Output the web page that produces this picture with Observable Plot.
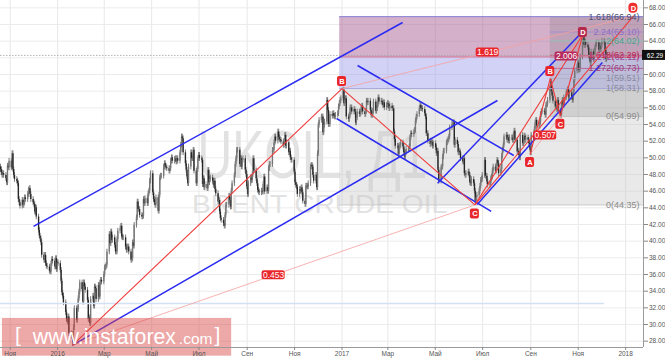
<!DOCTYPE html>
<html><head><meta charset="utf-8">
<script src="https://cdn.jsdelivr.net/npm/d3@7"></script>
<script src="https://cdn.jsdelivr.net/npm/@observablehq/plot@0.6"></script>
<style>html,body{margin:0;padding:0;background:#fff}#chart svg{display:block}</style>
</head><body><div id="chart"></div>
<script>
// ---------- data ----------
const firstDay = "2015-10-19";   // first trading day (Monday)
const firstOpen = 48.9;
// daily closes, one row per trading week (Mon..Fri)
const closes = [
48.6,48.2,47.9,48.1,47.9, 47.5,47.0,49.0,48.8,49.6, 48.8,50.5,48.6,47.9,47.4, 47.2,46.9,45.0,44.6,44.2,
44.9,44.3,44.6,45.2,45.0, 45.6,46.1,46.3,45.6,45.0, 44.6,44.4,43.5,44.0,42.9, 41.3,40.6,40.3,39.8,38.3,
37.7,38.3,37.3,37.0,36.9, 36.4,36.3,37.3,37.8,37.6, 36.9,37.9,36.6,37.4,37.3, 36.5,35.2,33.8,33.4,32.6,
31.4,30.6,30.3,30.9,28.9, 28.6,28.8,27.8,29.6,31.9, 30.5,31.8,33.1,33.9,35.0, 34.2,32.7,35.0,34.5,34.1,
32.9,30.6,30.8,30.1,33.0, 33.4,32.2,34.5,34.3,33.0, 34.7,33.3,35.0,35.3,35.1, 36.0,36.8,36.9,37.1,38.7,
40.8,39.7,41.1,40.1,40.4, 39.5,38.7,38.7,40.2,41.2, 41.5,41.8,40.5,40.4,40.4, 39.3,38.9,39.3,39.3,38.7,
37.7,37.9,39.8,39.4,41.9, 42.8,44.7,43.8,43.8,43.1, 42.9,43.0,45.0,44.5,45.1, 44.5,45.7,46.0,47.2,48.1,
45.8,45.0,44.6,44.3,45.2, 43.6,45.5,47.6,47.8,47.8, 48.9,49.3,49.0,48.8,48.7, 48.4,48.7,49.6,50.0,49.6,
49.8,49.9,49.5,49.9,49.6, 50.6,51.5,52.5,52.3,50.6, 49.3,48.5,47.7,46.9,48.9, 50.6,49.9,49.9,50.9,48.4,
46.9,48.6,49.9,50.3,49.9, 49.7,46.8,47.5,46.4,46.8, 46.3,48.5,47.0,47.4,47.6, 47.2,46.7,47.2,46.2,45.7,
44.7,44.9,43.5,42.7,42.5, 42.1,41.8,43.1,44.3,44.3, 45.4,44.9,44.1,46.0,46.9, 47.9,49.2,49.9,50.9,50.9,
49.2,49.9,48.9,49.7,49.9, 48.5,48.0,46.5,45.6,46.9, 47.6,47.3,48.0,49.9,48.4, 47.5,46.9,46.1,45.9,45.8,
46.0,45.9,46.8,47.7,45.9, 46.4,46.0,48.7,49.2,49.2, 50.9,50.9,51.8,52.5,52.0, 53.1,52.4,52.2,52.1,51.9,
51.5,52.0,52.7,51.4,51.8, 50.6,50.8,50.0,49.7,49.7, 48.3,47.0,46.7,46.5,45.6, 46.2,46.0,46.4,45.8,44.8,
44.4,46.6,46.6,46.5,46.9, 48.9,49.1,48.9,47.9,47.2, 47.9,46.4,50.5,53.9,54.5, 54.9,54.9,53.0,53.9,54.3,
56.9,55.7,54.0,54.0,55.2, 55.0,55.3,55.0,54.9,55.1, 55.3,56.1,56.5,56.9,57.1, 58.1,56.5,56.9,57.1,54.9,
54.6,55.1,56.0,56.0,55.5, 55.8,55.5,54.2,54.8,55.5, 55.2,55.4,55.9,56.2,55.5, 55.2,55.6,56.8,56.6,56.8,
55.7,55.1,55.1,55.6,56.7, 55.6,55.9,56.4,57.2,56.7, 56.8,56.6,56.3,56.6,56.0, 56.3,56.5,56.4,55.9,56.2,
55.9,55.9,53.1,52.2,51.4, 51.4,50.4,51.3,51.5,51.8, 51.3,50.6,50.1,50.6,51.0, 51.0,51.3,52.4,52.9,52.8,
53.1,53.3,54.4,54.9,55.2, 55.9,56.3,55.9,55.9,55.8, 55.3,54.9,52.9,52.9,52.0, 51.6,51.9,51.8,51.4,51.7,
51.2,50.5,50.8,48.5,47.2, 48.8,48.9,50.1,50.8,50.8, 51.8,52.0,52.2,52.5,53.6, 54.0,54.1,54.2,51.5,52.1,
51.6,50.6,50.8,50.6,49.9, 49.5,49.9,48.1,47.9,48.1, 48.3,47.9,47.0,46.9,47.4, 46.9,46.0,44.8,45.2,45.5,
46.0,46.6,47.3,47.4,47.9, 49.7,47.8,47.8,47.1,46.7, 46.9,47.5,47.7,48.4,48.9, 48.4,49.0,49.7,49.3,48.1,
48.6,50.2,50.9,51.5,52.5, 52.7,52.1,52.4,52.0,52.4, 52.4,52.1,52.7,53.2,52.1, 50.7,50.8,50.3,50.0,52.7,
51.7,51.9,52.6,52.1,52.4, 52.1,51.7,51.2,50.6,52.7, 52.3,53.4,54.2,54.5,53.8, 53.8,54.3,55.2,55.5,55.6,
55.5,55.1,56.3,56.4,56.9, 58.4,59.1,57.9,57.4,56.8, 56.1,56.0,55.8,56.9,55.6, 55.1,56.4,56.9,56.3,57.2,
57.8,58.0,58.2,57.2,57.8, 57.3,56.9,57.9,59.3,60.4, 60.9,61.4,60.5,60.6,62.1, 63.9,64.4,63.5,63.9,63.5,
63.2,62.2,61.9,61.4,62.7, 61.8,62.4,63.2,63.6,63.8, 62.9,63.4,63.0,63.5,64.0, 63.8,62.9,61.8,62.2,62.3
];
const lastPrice = 62.29;

// axis ticks
const xTickDates = ["2015-11-01","2016-01-01","2016-03-01","2016-05-01","2016-07-01","2016-09-01","2016-11-01",
                    "2017-01-01","2017-03-01","2017-05-01","2017-07-01","2017-09-01","2017-11-01","2018-01-01"];
const xTickLabels = ["Ноя","2016","Мар","Май","Июл","Сен","Ноя","2017","Мар","Май","Июл","Сен","Ноя","2018"];
const yTicks = [28,30,32,34,36,38,40,42,44,46,48,50,52,54,56,58,60,62,64,66,68];

// harmonic pattern points
const patternNames  = ["A0","B1","C1","D1","A","B","C","D"];
const patternDates  = ["2016-01-20","2017-01-01","2017-06-21","2018-01-11","2017-08-31","2017-09-26","2017-10-09","2017-11-07"];
const patternPrices = [27.5, 58.31, 44.35, 67.0, 50.4, 59.51, 54.99, 64.8];
const solidRedPairs = [["A0","B1"],["B1","C1"],["C1","D1"],["C1","D"],["A","B"],["B","C"],["C","D"]];
const ratioPairs    = [["A0","C1"],["B1","D1"],["A","C"],["B","D"]];
const ratioTexts    = ["0.453","1.619","0.507","2.006"];
const pointLabelNames   = ["B1","C1","D1","A","B","C","D"];
const pointLabelLetters = ["B","C","D","A","B","C","D"];

// blue channel lines
const blueStartDates  = ["2015-12-01","2016-01-20","2017-01-21","2016-12-25","2017-05-04","2017-06-24"];
const blueStartPrices = [41.77, 27.49, 61.08, 54.72, 46.96, 44.40];
const blueEndDates    = ["2017-03-20","2017-07-20","2017-08-10","2017-07-12","2017-11-04","2017-12-02"];
const blueEndPrices   = [66.24, 56.88, 50.28, 43.57, 64.88, 61.44];

// fibonacci zones and levels
const fib1Start = "2016-12-29";
const fib2Start = "2017-09-26";
const bandLows  = [44.35, 58.31, 62.11];
const bandHighs = [58.31, 62.11, 66.94];
const overlayLow = 54.99, overlayHigh = 66.94;
const fibValues = [66.94, 65.10, 64.02, 62.11, 62.29, 60.73, 59.51, 58.31, 54.99, 44.35];
const fibTexts  = ["1.618(66.94)","2.24(65.10)","2(64.02)","1.272(62.11)","1.618(62.29)","1.272(60.73)","1(59.51)","1(58.31)","0(54.99)","0(44.35)"];
const fibSet    = [1,2,2,1,2,2,2,1,2,1];
const supportLevel = 32.53, supportEnd = "2017-12-05";

// ---------- layout / style ----------
const W = 665, H = 358;
const xDomain = [new Date("2015-10-19T12:00:00Z"), new Date("2018-01-24T00:00:00Z")];
const yDomain = [27.24, 68.88];
const D = s => new Date(s + "T00:00:00Z");

const candles = [];
{
  let day = D(firstDay), prev = firstOpen;
  for (const c of closes) {
    while (day.getUTCDay() === 0 || day.getUTCDay() === 6) day = new Date(+day + 864e5);
    candles.push({date: new Date(+day + 432e5), open: prev, close: c});
    prev = c;
    day = new Date(+day + 864e5);
  }
}
const P = Object.fromEntries(patternNames.map((n, i) => [n, {date: D(patternDates[i]), price: patternPrices[i]}]));
const seg = ([a, b]) => ({x1: P[a].date, y1: P[a].price, x2: P[b].date, y2: P[b].price});
const solidSegs = solidRedPairs.map(seg);
const ratioSegs = ratioPairs.map((p, i) => {
  const s = seg(p);
  return {...s, mx: new Date((+s.x1 + +s.x2) / 2), my: (s.y1 + s.y2) / 2, text: ratioTexts[i]};
});
const blueSegs = blueStartDates.map((d, i) => ({x1: D(d), y1: blueStartPrices[i], x2: D(blueEndDates[i]), y2: blueEndPrices[i]}));
const bands = bandLows.map((lo, i) => ({x1: D(fib1Start), x2: xDomain[1], y1: lo, y2: bandHighs[i], k: i}));
const fibRows = fibValues.map((v, i) => ({v, t: fibTexts[i], x1: D(fibSet[i] === 1 ? fib1Start : fib2Start), k: i}));

const bandFill = ["#c4c4c4", "#9b9bea", "#a65890"];
const bandOpacity = [0.38, 0.45, 0.47];
const fibLineColor = ["#8585d6","#a58ad0","#93c3b5","#d46a8a","#d75a7a","#b66a9a","#b0b0c8","#a5a5d8","#b8b8b8","#c4c4c4"];
const fibTextColor = ["#4e4e72","#8e6fc0","#4f9e8e","#9a4a9a","#c02850","#9a3a7a","#8a8aa0","#8a8a9a","#8c8c8c","#8c8c8c"];
const labelDy = {B1: -7, C1: 9, D1: -8, A: 8, B: -7, C: 8, D: -2};
const labelFill = {B1: "#e8262b", C1: "#e8262b", D1: "#f0302f", A: "#e8262b", B: "#e8262b", C: "#e8262b", D: "#b52a4c"};
const ratioFill = ["#e8262b", "#e8262b", "#e8262b", "#b52a5a"];
const BLUE = "#2b2bf2", RED = "#f03a3a", FAINT = "#f5a0a0";
const labelMap = new Map(xTickDates.map((d, i) => [+D(d), xTickLabels[i]]));

const pointMarks = pointLabelNames.flatMap((n, i) => {
  const d = [{date: P[n].date, price: P[n].price, letter: pointLabelLetters[i]}];
  return [
    Plot.rect(d, {x1: "date", x2: "date", y1: "price", y2: "price", insetLeft: -4.5, insetRight: -4.5,
      insetTop: -5, insetBottom: -5, rx: n === "D1" ? 4 : 2, fill: labelFill[n], dy: labelDy[n]}),
    Plot.text(d, {x: "date", y: "price", text: "letter", fill: "white", fontSize: 7.5, fontWeight: "bold", dy: labelDy[n]})
  ];
});

const chart = Plot.plot({
  width: W, height: H,
  marginTop: 0, marginRight: 22, marginBottom: 11, marginLeft: 0,
  style: {background: "#fff", fontFamily: "Liberation Sans, Arial, sans-serif", fontSize: "6.5px", color: "#555", overflow: "visible"},
  x: {type: "utc", domain: xDomain, axis: null},
  y: {domain: yDomain, axis: null},
  marks: [
    Plot.gridX(xTickDates.map(D), {stroke: "#e8e8e8", strokeOpacity: 1}),
    Plot.gridY(yTicks, {stroke: "#ececec", strokeOpacity: 1}),
    // watermark
    Plot.text(["UKOIL, Д1"], {x: () => D("2016-06-29"), y: () => 47.64, text: d => d, textAnchor: "start", lineAnchor: "bottom", fontSize: 68, fill: "#e2e2e2"}),
    Plot.text(["BRENT CRUDE OIL"], {x: () => D("2016-06-22"), y: () => 43.33, text: d => d, textAnchor: "start", lineAnchor: "bottom", fontSize: 25, fill: "#e2e2e2"}),
    // fib zones
    Plot.rect(bands, {x1: "x1", x2: "x2", y1: "y1", y2: "y2", fill: d => bandFill[d.k], fillOpacity: d => bandOpacity[d.k]}),
    // candles
    Plot.ruleX(candles, {x: "date", y1: d => Math.max(d.open, d.close), y2: d => Math.min(d.open, d.close),
      insetTop: -2.8, insetBottom: -2.8, stroke: "#7a7a7a", strokeWidth: 1}),
    Plot.ruleX(candles, {x: "date", y1: d => Math.max(d.open, d.close), y2: d => Math.min(d.open, d.close),
      stroke: d => d.close >= d.open ? "#777777" : "#262626", strokeWidth: 1.35}),
    // second fib overlay
    Plot.rect([{x1: D(fib2Start), x2: xDomain[1], y1: overlayLow, y2: overlayHigh}], {x1: "x1", x2: "x2", y1: "y1", y2: "y2", fill: "#6e6e6e", fillOpacity: 0.2}),
    Plot.ruleY(fibRows, {y: "v", x1: "x1", x2: () => xDomain[1], stroke: d => fibLineColor[d.k], strokeWidth: 1}),
    // horizontal levels
    Plot.ruleY([supportLevel], {x1: () => xDomain[0], x2: () => D(supportEnd), stroke: "#d3e1f4", strokeWidth: 1.5}),
    Plot.ruleY([lastPrice], {stroke: "#a0a0a0", strokeWidth: 0.8, strokeDasharray: "1.5,1.5"}),
    // trend lines
    Plot.link(blueSegs, {x1: "x1", y1: "y1", x2: "x2", y2: "y2", stroke: BLUE, strokeWidth: 1.5}),
    Plot.link(ratioSegs, {x1: "x1", y1: "y1", x2: "x2", y2: "y2", stroke: FAINT, strokeWidth: 0.8}),
    Plot.link(solidSegs, {x1: "x1", y1: "y1", x2: "x2", y2: "y2", stroke: RED, strokeWidth: 1.1}),
    // ratio labels
    Plot.rect(ratioSegs, {x1: "mx", x2: "mx", y1: "my", y2: "my", insetLeft: -11.5, insetRight: -11.5, insetTop: -4.5, insetBottom: -4.5,
      rx: 2, fill: d => ratioFill[ratioTexts.indexOf(d.text)]}),
    Plot.text(ratioSegs, {x: "mx", y: "my", text: "text", fill: "white", fontSize: 8.5}),
    ...pointMarks,
    // fib texts
    Plot.text(fibRows, {x: () => xDomain[1], y: "v", text: "t", textAnchor: "end", dx: -4, fontSize: 9,
      fill: d => fibTextColor[d.k], fontWeight: d => d.k === 0 ? "bold" : "normal"}),
    // logo
    Plot.rect([0], {x1: () => D("2015-10-22"), x2: () => D("2016-08-12"), y1: () => 30.73, y2: () => 26.2, fill: "#d84646", fillOpacity: 0.47}),
    Plot.text(["["], {x: () => D("2015-11-07"), y: () => 27.85, text: d => d, textAnchor: "start", lineAnchor: "bottom", fontSize: 21, fill: "white"}),
    Plot.text(["www.instaforex"], {x: () => D("2015-11-30"), y: () => 27.62, text: d => d, textAnchor: "start", lineAnchor: "bottom", fontSize: 21.3, fill: "white"}),
    Plot.text([".com"], {x: () => D("2016-06-05"), y: () => 27.62, text: d => d, textAnchor: "start", lineAnchor: "bottom", fontSize: 15.5, fill: "white"}),
    Plot.text(["]"], {x: () => D("2016-07-21"), y: () => 27.85, text: d => d, textAnchor: "start", lineAnchor: "bottom", fontSize: 21, fill: "white"}),
    // axes
    Plot.ruleX([xDomain[1]], {stroke: "#9a9a9a", strokeWidth: 1}),
    Plot.ruleY([yDomain[0]], {stroke: "#9a9a9a", strokeWidth: 1}),
    Plot.axisX(xTickDates.map(D), {anchor: "bottom", tickSize: 3, tickPadding: 0.5, fontSize: 6.5, label: null,
      tickFormat: d => labelMap.get(+d), stroke: "#888", fill: "#555"}),
    Plot.axisY(yTicks, {anchor: "right", tickSize: 4, tickPadding: 1.5, fontSize: 6.5, label: null,
      tickFormat: d => (Math.abs(d - lastPrice) < 1 ? "" : d.toFixed(2)), stroke: "#888", fill: "#555"}),
    // last price tag
    Plot.rect([lastPrice], {x1: () => xDomain[1], x2: () => xDomain[1], y1: d => d, y2: d => d,
      insetLeft: -1, insetRight: -22, insetTop: -5, insetBottom: -5, fill: "#111"}),
    Plot.text([lastPrice], {x: () => xDomain[1], y: d => d, text: d => d.toFixed(2), dx: 11.5, fill: "white", fontSize: 6.5})
  ]
});
document.getElementById("chart").append(chart);

const lengths = new Map([["UKOIL, Д1", 230], ["BRENT CRUDE OIL", 255]]);
chart.querySelectorAll("text").forEach(t => {
  const L = lengths.get(t.textContent);
  if (L) { t.setAttribute("textLength", L); t.setAttribute("lengthAdjust", "spacingAndGlyphs"); }
});
</script>
</body></html>
